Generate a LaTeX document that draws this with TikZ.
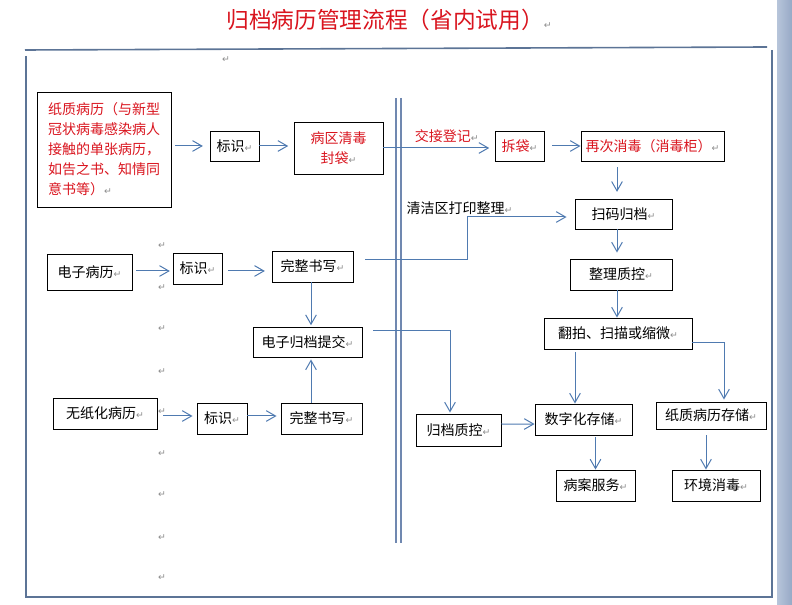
\documentclass[tikz,border=0pt]{standalone}
\usepackage{fontspec}
\usepackage{xcolor}
\usepackage{tikz}
\usetikzlibrary{positioning, arrows.meta}
\newfontfamily\cjk{Noto Sans CJK SC}
\newfontfamily\markfont{DejaVu Sans}
\definecolor{recred}{HTML}{D9141E}
\definecolor{lineblue}{HTML}{4F7AB0}
\definecolor{framegray}{HTML}{5C7496}
\definecolor{dblblue}{HTML}{7088B0}
\definecolor{markgray}{HTML}{8C8C8C}
\definecolor{winleft}{HTML}{B7C5DA}
\definecolor{winright}{HTML}{97A9C6}
\newcommand{\parmark}{{\markfont\fontsize{7}{8}\selectfont\textcolor{markgray}{↵}}}

\begin{document}
\begin{tikzpicture}[
    x=0.75pt, y=-0.75pt,
    font=\cjk\fontsize{10.5}{15}\selectfont,
    box/.style={draw, line width=0.7pt, inner sep=2pt, align=center},
    redbox/.style={box, text=recred},
    arrow/.style={draw=lineblue, line width=0.75pt, -{Straight Barb[length=7pt, width=8pt]}},
    frame/.style={draw=framegray, line width=0.9pt},
    dbl/.style={draw=dblblue, line width=0.8pt},
    note/.style={inner sep=1pt},
]
\useasboundingbox (0,0) rectangle (792,605);

% Page frame
\fill[left color=winleft, right color=winright] (777,0) rectangle (792,605);
\draw[frame, line width=1.2pt] (25,50) -- (767,47);
\draw[frame] (26,56) -- (26,597) -- (773,597);
\draw[frame] (772,50) -- (772,597);
\draw[dbl] (396,98) -- (396,543);
\draw[dbl] (401,98) -- (401,543);

% Title
\node[text=recred, font=\cjk\fontsize{17}{20}\selectfont] (title) at (389,20) {归档病历管理流程（省内试用）\parmark};

% Paragraph marks
\node[note] (mk0) at (226,60) {\parmark};
\foreach \y in {246,288,329,372,412,454,495,538,578}
    \node[note] at (162,\y) {\parmark};

% Helper columns and rows
\coordinate (spine) at (617,0);
\coordinate (dcol) at (575,0);
\coordinate (pcol) at (724,0);
\coordinate (ecol) at (706,0);
\coordinate (wcol) at (311,0);
\coordinate (qcin) at (450,0);
\coordinate (cleanx) at (467,217);
\coordinate (row2) at (0,271);
\coordinate (row3) at (0,416);

% Paper records
\node[redbox, align=left, minimum width=100.5pt, minimum height=86.25pt] (paper) at (104,149.5) {纸质病历（与新型\\冠状病毒感染病人\\接触的单张病历，\\如告之书、知情同\\意书等）\parmark};
\node[box, minimum width=36.75pt, minimum height=22.5pt] (mark1) at (234.5,146) {标识\parmark};
\node[redbox, minimum width=66.75pt, minimum height=39pt] (bag) at (338.5,148) {病区清毒\\封袋\parmark};

% Electronic records
\node[box, minimum width=63.75pt, minimum height=27pt] (emr) at (89.5,272) {电子病历\parmark};
\node[box, minimum width=36.75pt, minimum height=23.25pt] (mark2) at (197.5,268.5) {标识\parmark};
\node[box, minimum width=60.75pt, minimum height=23.25pt] (write1) at (312.5,266.5) {完整书写\parmark};
\node[box, minimum width=81.75pt, minimum height=22.5pt] (submit) at (307.5,342) {电子归档提交\parmark};

% Paperless records
\node[box, minimum width=78pt, minimum height=23.25pt] (nopaper) at (105,413.5) {无纸化病历\parmark};
\node[box, minimum width=37.5pt, minimum height=23.25pt] (mark3) at (222,418.5) {标识\parmark};
\node[box, minimum width=60.75pt, minimum height=23.25pt] (write2) at (321.5,418.5) {完整书写\parmark};

% Archive side
\node[redbox, minimum width=36.75pt, minimum height=22.5pt] (open) at (519.5,146) {拆袋\parmark};
\node[redbox, minimum width=107.25pt, minimum height=22.5pt] (redis) at (652.5,146) {再次消毒（消毒柜）\parmark};
\node[note] (cleanlbl) at (459.5,208) {清洁区打印整理\parmark};
\node[box, minimum width=72.75pt, minimum height=22.5pt] (scan) at (623.5,214) {扫码归档\parmark};
\node[box, minimum width=76.5pt, minimum height=23.25pt] (sort) at (621,274.5) {整理质控\parmark};
\node[box, minimum width=111pt, minimum height=23.25pt] (photo) at (618,333.5) {翻拍、扫描或缩微\parmark};
\node[box, minimum width=63.75pt, minimum height=24pt] (qc) at (458.5,430) {归档质控\parmark};
\node[box, minimum width=72.75pt, minimum height=23.25pt] (digital) at (583.5,419.5) {数字化存储\parmark};
\node[box, minimum width=82.5pt, minimum height=20.25pt] (paperstore) at (711,415.5) {纸质病历存储\parmark};
\node[box, minimum width=59.25pt, minimum height=23.25pt] (service) at (595.5,485.5) {病案服务\parmark};
\node[box, minimum width=66pt, minimum height=23.25pt] (env) at (716,485.5) {环境消毒\parmark};

% Arrows, paper path
\draw[arrow, shorten <=3pt, shorten >=5pt] (paper.east |- mark1) -- (mark1.west);
\draw[arrow, shorten >=4pt] (mark1.east) -- (mark1 -| bag.west);
\draw[arrow, shorten >=4pt] (bag.east) -- (bag.east -| open.west)
    node[pos=0.57, above=3pt, note, text=recred] (handover) {交接登记\parmark};
\draw[arrow, shorten <=6pt] (open.east) -- (redis.west);
\draw[arrow, shorten <=4.5pt, shorten >=5pt] (redis.south -| spine) -- (scan.north -| spine);
\draw[arrow, shorten >=4.5pt] (scan.south -| spine) -- (sort.north -| spine);
\draw[arrow] (sort.south -| spine) -- (photo.north -| spine);
\draw[arrow, shorten <=2pt] (photo.south -| dcol) -- (digital.north -| dcol);
\draw[arrow, shorten >=1.5pt] ([yshift=-6.4pt]photo.east) -| (paperstore.north -| pcol);
\draw[arrow, shorten <=1.5pt] (digital.south -| service) -- (service.north);
\draw[arrow, shorten <=4.5pt] (paperstore.south -| ecol) -- (env.north -| ecol);
\draw[arrow] ([yshift=4.5pt]qc.east) -- ([yshift=-3.4pt]digital.west);

% Arrows, electronic path
\draw[arrow, shorten <=3pt, shorten >=2pt] (emr.east |- row2) -- (mark2.west |- row2);
\draw[arrow, shorten <=4pt, shorten >=5pt] (mark2.east |- row2) -- (write1.west |- row2);
\draw[arrow, shorten >=1pt] (write1.south -| wcol) -- (submit.north -| wcol);
\draw[arrow, shorten <=9pt, shorten >=6pt] ([yshift=4.9pt]write1.east) -| (cleanx) -- (scan.west |- cleanx);
\draw[arrow, shorten <=8pt, shorten >=0.75pt] ([yshift=8.25pt]submit.east) -| (qc.north -| qcin);

% Arrows, paperless path
\draw[arrow, shorten <=4.5pt, shorten >=3pt] (nopaper.east |- row3) -- (mark3.west |- row3);
\draw[arrow, shorten >=3pt] (mark3.east |- row3) -- (write2.west |- row3);
\draw[arrow, shorten >=1.5pt] (write2.north -| wcol) -- (submit.south -| wcol);

\end{tikzpicture}
\end{document}
